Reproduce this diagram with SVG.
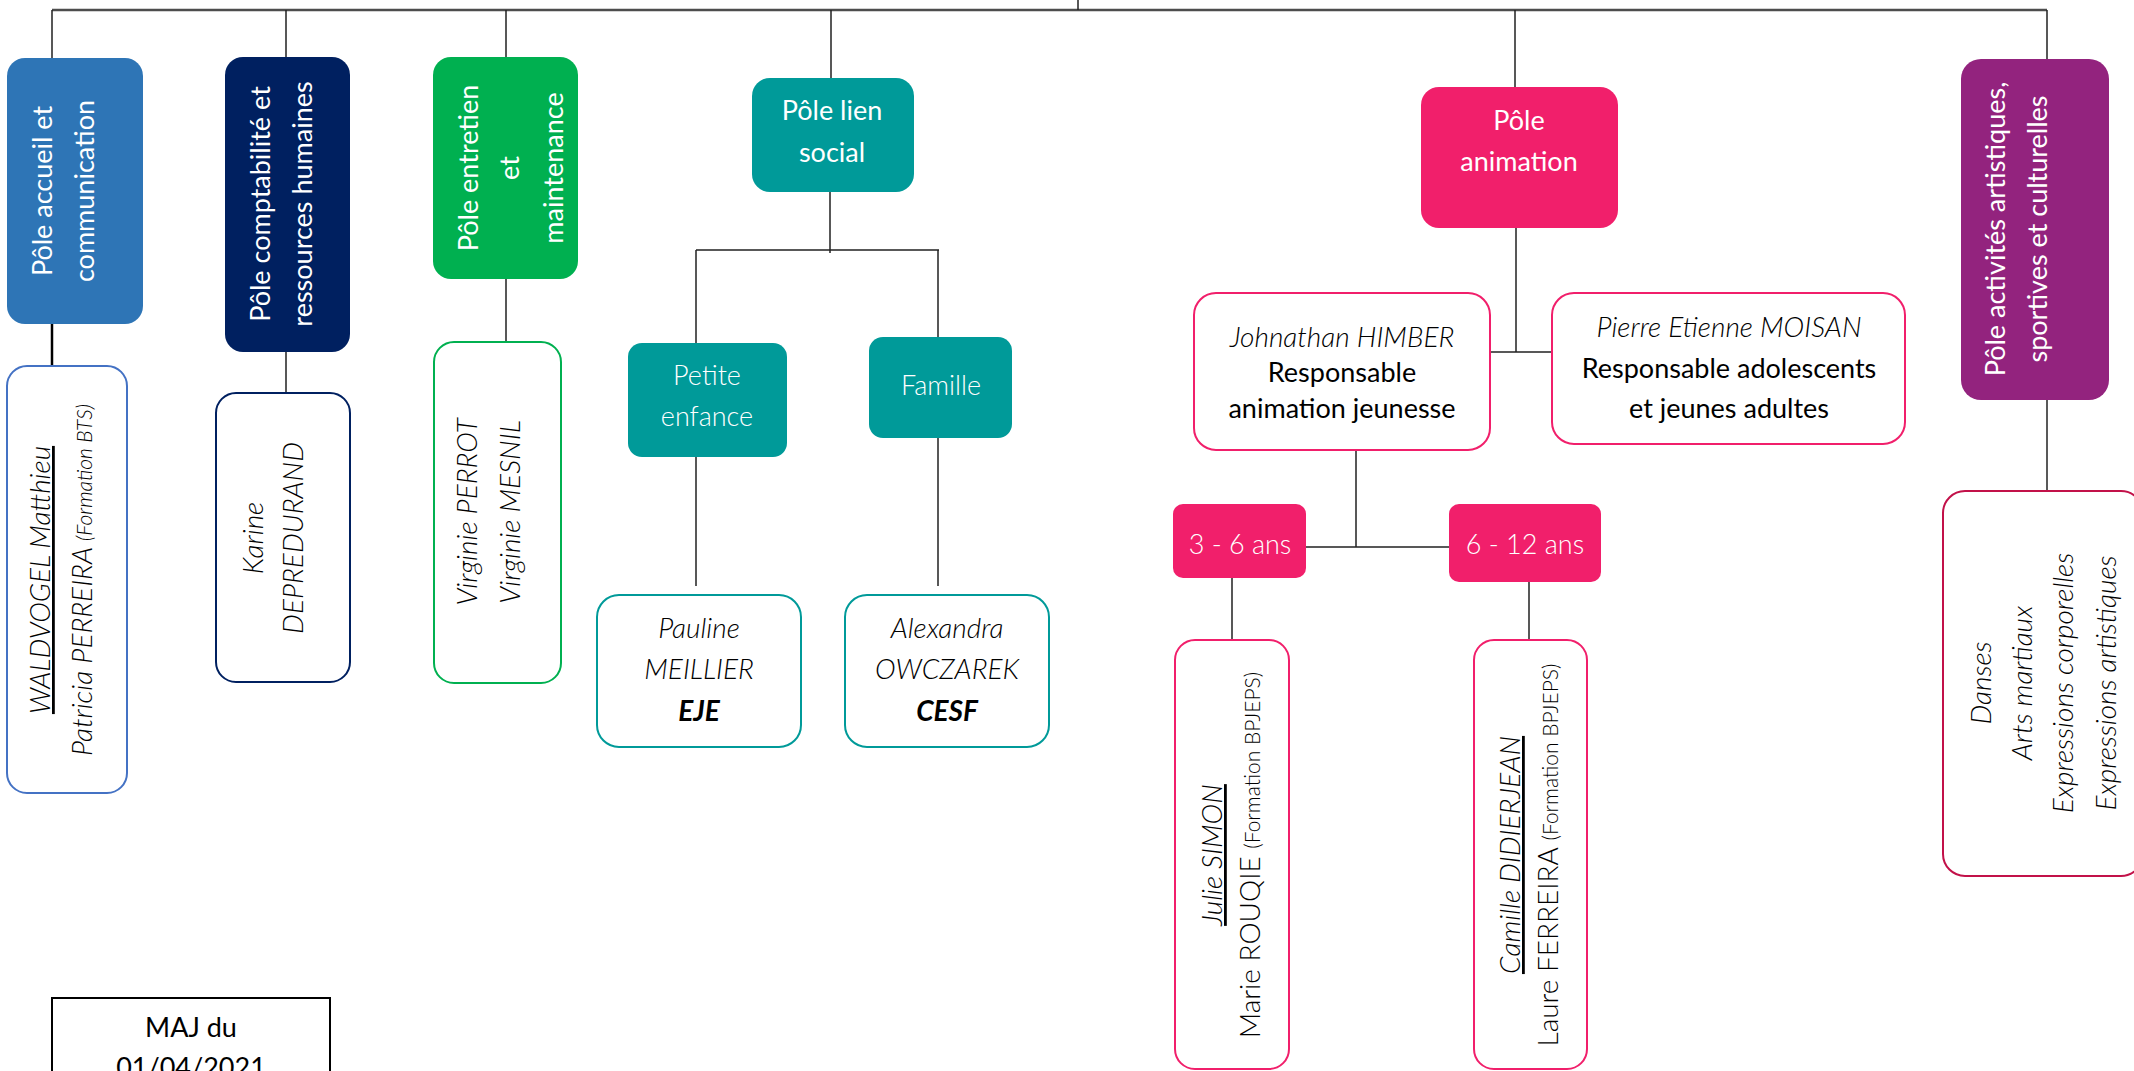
<svg xmlns="http://www.w3.org/2000/svg" width="2134" height="1071" viewBox="0 0 2134 1071">
<style>
.c{stroke:#222;stroke-width:1.5;fill:none}
.t{stroke:#4d4d4d;stroke-width:2.5;fill:none}
.card{fill:#fff;stroke-width:2}
.w{fill:#fff;font-family:Lato,"Open Sans","Liberation Sans",sans-serif;font-size:27px;text-anchor:middle}
.wl{font-weight:300}
.n{fill:#000;font-family:Lato,"Open Sans","Liberation Sans",sans-serif;font-size:28px;font-style:italic;font-weight:300;text-anchor:middle}
.r{fill:#000;font-family:Lato,"Open Sans","Liberation Sans",sans-serif;font-size:27px;text-anchor:middle}
.up{font-style:normal}
.b{font-weight:700}
.u{text-decoration:underline}
.sm{font-size:21px}
.pk{stroke:#F11F6B}
</style>
<rect width="2134" height="1071" fill="#fff"/>
<g id="connectors">
<path class="t" d="M52 10H2047"/>
<path class="c" d="M1078 0V10M52 10V58M286 10V57M506 10V57M831 10V78M1515 10V87M2047 10V59"/>
<path class="c" style="stroke:#000;stroke-width:2.5" d="M52 324V366"/>
<path class="c" d="M286 352V393M506 279V342"/>
<path class="c" d="M830 192V253M696 250H939M696 250V343M938 250V337M696 457V586M938 438V586"/>
<path class="c" d="M1516 228V352M1490 352H1552M1356 450V547M1306 547H1449M1232 578V640M1529 582V640"/>
<path class="c" d="M2047 400V491"/>
</g>
<g id="pole-accueil">
<rect x="7" y="58" width="136" height="266" rx="18" fill="#2E75B6"/>
<text class="w" transform="translate(52,191) rotate(-90)">Pôle accueil et</text>
<text class="w" transform="translate(94,191) rotate(-90)">communication</text>
</g>
<g id="pole-compta">
<rect x="225" y="57" width="125" height="295" rx="18" fill="#002060"/>
<text class="w" transform="translate(270,204) rotate(-90)">Pôle comptabilité et</text>
<text class="w" transform="translate(312,204) rotate(-90)">ressources humaines</text>
</g>
<g id="pole-entretien">
<rect x="433" y="57" width="145" height="222" rx="18" fill="#00B050"/>
<text class="w" transform="translate(478,168) rotate(-90)">Pôle entretien</text>
<text class="w" transform="translate(519,168) rotate(-90)">et</text>
<text class="w" transform="translate(563,168) rotate(-90)">maintenance</text>
</g>
<g id="accueil-staff">
<rect class="card" x="7" y="366" width="120" height="427" rx="20" stroke="#4472C4"/>
<text class="n" transform="translate(50,580) rotate(-90)"><tspan class="u">WALDVOGEL Matthieu</tspan></text>
<text class="n" transform="translate(92,580) rotate(-90)">Patricia PERREIRA <tspan class="sm">(Formation BTS)</tspan></text>
</g>
<g id="compta-staff">
<rect class="card" x="216" y="393" width="134" height="289" rx="20" stroke="#002060"/>
<text class="n" transform="translate(263,538) rotate(-90)">Karine</text>
<text class="n" transform="translate(303,538) rotate(-90)">DEPREDURAND</text>
</g>
<g id="entretien-staff">
<rect class="card" x="434" y="342" width="127" height="341" rx="20" stroke="#00B050"/>
<text class="n" transform="translate(477,512) rotate(-90)">Virginie PERROT</text>
<text class="n" transform="translate(520,512) rotate(-90)">Virginie MESNIL</text>
</g>
<g id="pole-lien">
<rect x="752" y="78" width="162" height="114" rx="18" fill="#009A99"/>
<text class="w" x="832" y="120">Pôle lien</text>
<text class="w" x="832" y="162">social</text>
</g>
<g id="petite-enfance">
<rect x="628" y="343" width="159" height="114" rx="14" fill="#009A99"/>
<text class="w wl" x="707" y="385">Petite</text>
<text class="w wl" x="707" y="426">enfance</text>
</g>
<g id="famille">
<rect x="869" y="337" width="143" height="101" rx="14" fill="#009A99"/>
<text class="w wl" x="941" y="395">Famille</text>
</g>
<g id="pauline">
<rect class="card" x="597" y="595" width="204" height="152" rx="22" stroke="#009A99"/>
<text class="n" x="699" y="638">Pauline</text>
<text class="n" x="699" y="679">MEILLIER</text>
<text class="n b" x="699" y="721">EJE</text>
</g>
<g id="alexandra">
<rect class="card" x="845" y="595" width="204" height="152" rx="22" stroke="#009A99"/>
<text class="n" x="947" y="638">Alexandra</text>
<text class="n" x="947" y="679">OWCZAREK</text>
<text class="n b" x="947" y="721">CESF</text>
</g>
<g id="pole-animation">
<rect x="1421" y="87" width="197" height="141" rx="18" fill="#F11F6B"/>
<text class="w" x="1519" y="130">Pôle</text>
<text class="w" x="1519" y="171">animation</text>
</g>
<g id="johnathan">
<rect class="card pk" x="1194" y="293" width="296" height="157" rx="22"/>
<text class="n" x="1342" y="347">Johnathan HIMBER</text>
<text class="r" x="1342" y="382">Responsable</text>
<text class="r" x="1342" y="418">animation jeunesse</text>
</g>
<g id="pierre">
<rect class="card pk" x="1552" y="293" width="353" height="151" rx="22"/>
<text class="n" x="1729" y="337">Pierre Etienne MOISAN</text>
<text class="r" x="1729" y="378">Responsable adolescents</text>
<text class="r" x="1729" y="418">et jeunes adultes</text>
</g>
<g id="age-3-6">
<rect x="1173" y="504" width="133" height="74" rx="10" fill="#F11F6B"/>
<text class="w wl" x="1240" y="554">3 - 6 ans</text>
</g>
<g id="age-6-12">
<rect x="1449" y="504" width="152" height="78" rx="10" fill="#F11F6B"/>
<text class="w wl" x="1525" y="554">6 - 12 ans</text>
</g>
<g id="julie">
<rect class="card pk" x="1175" y="640" width="114" height="429" rx="20"/>
<text class="n" transform="translate(1222,855) rotate(-90)"><tspan class="u">Julie SIMON</tspan></text>
<text class="n up" transform="translate(1260,855) rotate(-90)">Marie ROUQIE <tspan class="sm">(Formation BPJEPS)</tspan></text>
</g>
<g id="camille">
<rect class="card pk" x="1474" y="640" width="113" height="429" rx="20"/>
<text class="n" transform="translate(1520,855) rotate(-90)"><tspan class="u">Camille DIDIERJEAN</tspan></text>
<text class="n up" transform="translate(1558,855) rotate(-90)">Laure FERREIRA <tspan class="sm">(Formation BPJEPS)</tspan></text>
</g>
<g id="pole-activites">
<rect x="1961" y="59" width="148" height="341" rx="20" fill="#93237E"/>
<text class="w" transform="translate(2005,229) rotate(-90)">Pôle activités artistiques,</text>
<text class="w" transform="translate(2047,229) rotate(-90)">sportives et culturelles</text>
</g>
<g id="activites-list">
<rect class="card" x="1943" y="491" width="200" height="385" rx="22" stroke="#C21149"/>
<text class="n" transform="translate(1991,683) rotate(-90)">Danses</text>
<text class="n" transform="translate(2032,683) rotate(-90)">Arts martiaux</text>
<text class="n" transform="translate(2073,683) rotate(-90)">Expressions corporelles</text>
<text class="n" transform="translate(2116,683) rotate(-90)">Expressions artistiques</text>
</g>
<g id="maj">
<rect x="52" y="998" width="278" height="100" fill="#fff" stroke="#000" stroke-width="2"/>
<text class="r" x="191" y="1037">MAJ du</text>
<text class="r" x="191" y="1077">01/04/2021</text>
</g>
</svg>
